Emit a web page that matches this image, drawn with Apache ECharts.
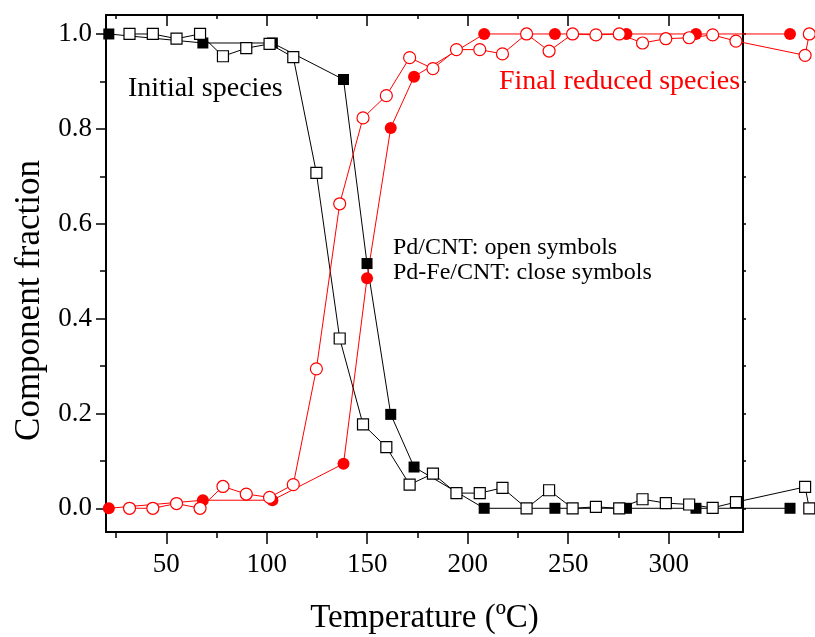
<!DOCTYPE html>
<html>
<head>
<meta charset="utf-8">
<script src="https://cdn.jsdelivr.net/npm/echarts@6/dist/echarts.min.js"></script>
<style>
html,body{margin:0;padding:0;background:#fff;}
#chart{width:815px;height:637px;}
</style>
</head>
<body>
<div id="chart"></div>
<script>
// ---- data ----
// Pd-Fe/CNT (close symbols) temperatures
var tempClose = [21.4, 68.2, 102.8, 138.2, 149.9, 161.7, 173.3, 208.2, 243.4, 279, 313.6, 360.4];
var initialClose = [1.0, 0.981, 0.981, 0.904, 0.516, 0.198, 0.087, 0, 0, 0, 0, 0];
var finalClose = [0, 0.017, 0.017, 0.094, 0.485, 0.802, 0.910, 1.0, 1.0, 1.0, 1.0, 1.0];

// Pd/CNT (open symbols) temperatures
var tempOpen = [31.7, 43.3, 55.1, 66.8, 78.2, 89.8, 101.4, 113.2, 124.7, 136.3, 147.9, 159.5, 171.1, 182.7,
  194.4, 206, 217.3, 229.3, 240.5, 252.2, 263.8, 275.4, 287, 298.6, 310.2, 321.9, 333.5, 367.9, 370];
var initialOpen = [1.0, 1.0, 0.990, 1.0, 0.953, 0.970, 0.979, 0.951, 0.707, 0.358, 0.177, 0.129, 0.050, 0.073,
  0.032, 0.032, 0.043, 0, 0.038, 0, 0.003, 0, 0.019, 0.011, 0.008, 0.001, 0.013, 0.045, 0];
var finalOpen = [0, 0, 0.010, 0, 0.046, 0.030, 0.023, 0.050, 0.294, 0.642, 0.823, 0.870, 0.950, 0.927,
  0.967, 0.967, 0.958, 1.0, 0.964, 1.0, 0.998, 1.0, 0.981, 0.990, 0.992, 0.998, 0.985, 0.955, 1.0];

// ticks
var xMajorTicks = [50, 100, 150, 200, 250, 300];
var xMinorTicks = [25, 75, 125, 175, 225, 275, 325];
var yMajorTicks = [0, 0.2, 0.4, 0.6, 0.8, 1.0];
var yMinorTicks = [0.1, 0.3, 0.5, 0.7, 0.9];
var yAllTicks = [0, 0.1, 0.2, 0.3, 0.4, 0.5, 0.6, 0.7, 0.8, 0.9, 1.0];

var xTitle = 'Temperature (ºC)';
var yTitle = 'Component fraction';

// ---- chart ----
var FONT = "'Liberation Serif', 'DejaVu Serif', serif";
var W = 815;
var G_LEFT = 106, G_RIGHT = 72, G_TOP = 15, G_BOTTOM = 105;
var X_MIN = 20, X_MAX = 337, Y_MIN = -0.05, Y_MAX = 1.04;
// the data overflow the framed plot on the right: a second, unframed grid with the
// same scale (same px per degree) extends to the right edge of the page
var X_MAX_WIDE = X_MIN + (W - G_LEFT) * (X_MAX - X_MIN) / (W - G_LEFT - G_RIGHT);

function zip(xs, ys) { return xs.map(function (x, i) { return [x, ys[i]]; }); }

function xAx(extra) {
  return Object.assign({
    type: 'value', min: X_MIN, max: X_MAX, gridIndex: 0, splitLine: { show: false },
    axisLine: { show: false, onZero: false }, axisLabel: { show: false }
  }, extra);
}
function yAx(extra) {
  return Object.assign({
    type: 'value', min: Y_MIN, max: Y_MAX, gridIndex: 0, splitLine: { show: false },
    axisLine: { show: false, onZero: false }, axisLabel: { show: false }
  }, extra);
}
var tickStyle = { color: '#000', width: 1.5 };
var lineStyleAx = { color: '#000', width: 2 };

function lineSeries(name, xs, ys, symbol, size, itemStyle, color) {
  return {
    name: name, type: 'line', xAxisIndex: 4, yAxisIndex: 3, clip: false,
    data: zip(xs, ys), symbol: symbol, symbolSize: size, showAllSymbol: true,
    itemStyle: itemStyle, lineStyle: { color: color, width: 1 },
    emphasis: { disabled: true }
  };
}

var chart = echarts.init(document.getElementById('chart'), null, { renderer: 'canvas' });
chart.setOption({
  animation: false,
  backgroundColor: '#fff',
  grid: [
    { left: G_LEFT, right: G_RIGHT, top: G_TOP, bottom: G_BOTTOM, containLabel: false, outerBoundsMode: 'none' },
    { left: G_LEFT, right: 0, top: G_TOP, bottom: G_BOTTOM, containLabel: false, outerBoundsMode: 'none' }
  ],
  xAxis: [
    xAx({
      position: 'bottom',
      axisLine: { show: true, onZero: false, lineStyle: lineStyleAx },
      axisTick: { show: true, customValues: xMajorTicks, length: 12, lineStyle: tickStyle },
      axisLabel: { show: true, customValues: xMajorTicks, margin: 19, fontSize: 27, fontFamily: FONT, color: '#000' },
      name: xTitle, nameLocation: 'middle', nameGap: 70,
      nameTextStyle: { fontSize: 33, fontFamily: FONT, color: '#000' }
    }),
    xAx({
      position: 'bottom',
      axisTick: { show: true, customValues: xMinorTicks, length: 6, lineStyle: tickStyle }
    }),
    xAx({
      position: 'top',
      axisLine: { show: true, onZero: false, lineStyle: lineStyleAx },
      axisTick: { show: true, inside: true, customValues: xMajorTicks, length: 11, lineStyle: tickStyle }
    }),
    xAx({
      position: 'top',
      axisTick: { show: true, inside: true, customValues: xMinorTicks, length: 4, lineStyle: tickStyle }
    }),
    { type: 'value', gridIndex: 1, min: X_MIN, max: X_MAX_WIDE, show: false, splitLine: { show: false } }
  ],
  yAxis: [
    yAx({
      position: 'left',
      axisLine: { show: true, onZero: false, lineStyle: lineStyleAx },
      axisTick: { show: true, customValues: yMajorTicks, length: 10, lineStyle: tickStyle },
      axisLabel: {
        show: true, customValues: yMajorTicks, margin: 14, fontSize: 27, fontFamily: FONT, color: '#000',
        formatter: function (v) { return v.toFixed(1); }
      },
      name: yTitle, nameLocation: 'middle', nameGap: 58,
      nameTextStyle: { fontSize: 35, fontFamily: FONT, color: '#000', padding: [0, 54, 0, 0] }
    }),
    yAx({
      position: 'left',
      axisTick: { show: true, customValues: yMinorTicks, length: 6, lineStyle: tickStyle }
    }),
    yAx({
      position: 'right',
      axisLine: { show: true, onZero: false, lineStyle: lineStyleAx },
      axisTick: { show: true, customValues: yAllTicks, length: 3, lineStyle: tickStyle }
    }),
    { type: 'value', gridIndex: 1, min: Y_MIN, max: Y_MAX, show: false, splitLine: { show: false } }
  ],
  series: [
    lineSeries('Pd-Fe/CNT initial', tempClose, initialClose, 'rect', 11, { color: '#000' }, '#000'),
    lineSeries('Pd-Fe/CNT final', tempClose, finalClose, 'circle', 12, { color: '#ff0000' }, '#ff0000'),
    lineSeries('Pd/CNT initial', tempOpen, initialOpen, 'rect', 11,
      { color: '#fff', borderColor: '#000', borderWidth: 1.2 }, '#000'),
    lineSeries('Pd/CNT final', tempOpen, finalOpen, 'circle', 12,
      { color: '#fff', borderColor: '#ff0000', borderWidth: 1.2 }, '#ff0000')
  ],
  graphic: [
    { type: 'text', left: 128, top: 75, style: { text: 'Initial species', font: "28px " + FONT, fill: '#000' } },
    { type: 'text', left: 499, top: 68, style: { text: 'Final reduced species', font: "28px " + FONT, fill: '#ff0000' } },
    { type: 'text', left: 393, top: 236, style: { text: 'Pd/CNT: open symbols', font: "24px " + FONT, fill: '#000' } },
    { type: 'text', left: 393, top: 261, style: { text: 'Pd-Fe/CNT: close symbols', font: "24px " + FONT, fill: '#000' } }
  ]
});
</script>
</body>
</html>
